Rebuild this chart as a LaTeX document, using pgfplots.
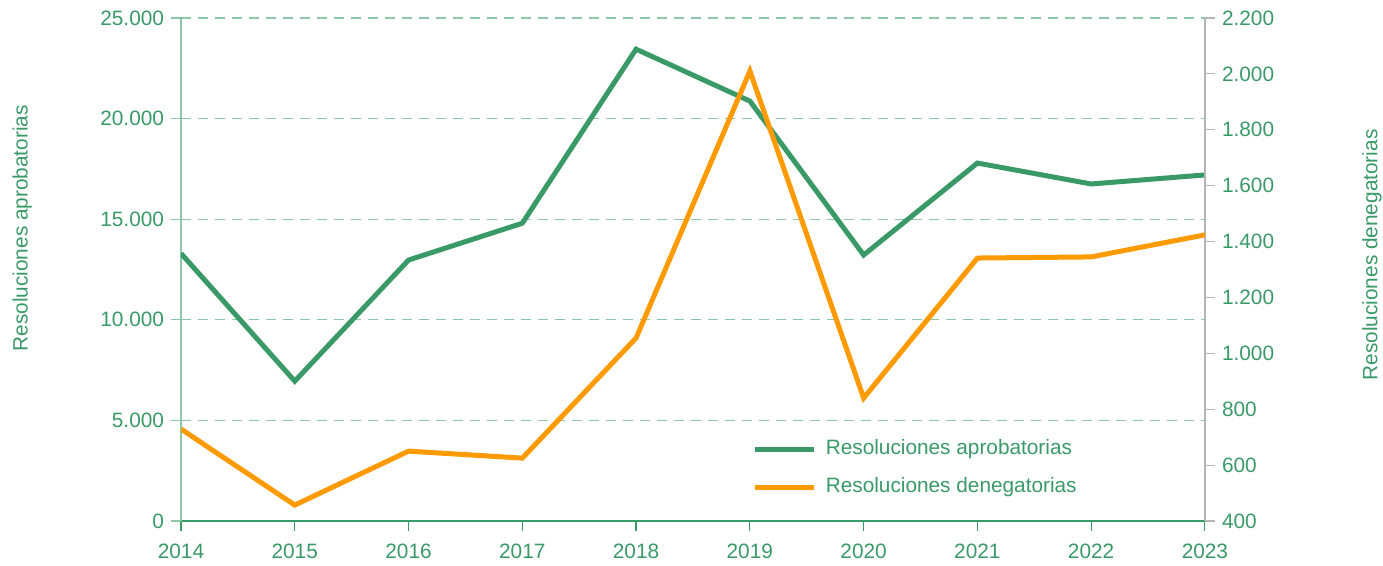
\documentclass[border=0pt]{standalone}
\usepackage{fontspec}
\setmainfont{Liberation Sans}
\usepackage{pgfplots}
\pgfplotsset{compat=1.18}
\definecolor{verde}{HTML}{3A9A67}
\definecolor{verdeclaro}{HTML}{8CC8A8}
\definecolor{naranja}{HTML}{FF9A00}
\definecolor{gris}{HTML}{B4B4B4}
\newcommand{\fs}{\fontsize{10.4}{12}\selectfont}

\pgfplotstableread{
anio aprob deneg
2014 13300 729
2015  6950 457
2016 12970 650
2017 14800 625
2018 23450 1055
2019 20870 2010
2020 13220 840
2021 17790 1341
2022 16750 1345
2023 17200 1424
}\datos

\pgfplotsset{
  base/.style={
    scale only axis, width=512pt, height=251.5pt,
    xmin=2014, xmax=2023,
    tick align=outside, major tick length=5pt,
    every tick label/.append style={font=\fs, text=verde},
    label style={font=\fs, text=verde},
    /pgf/number format/assume math mode=true,
    /pgf/number format/1000 sep={.},
    scaled y ticks=false,
  },
}

\begin{document}
\begin{tikzpicture}
\begin{axis}[base, name=main,
  axis x line*=bottom, axis y line*=left,
  ymin=0, ymax=25000, ytick={0,5000,...,25000},
  xtick={2014,...,2023},
  xticklabels={2014,2015,2016,2017,2018,2019,2020,2021,2022,2023},
  xticklabel style={yshift=-3pt},
  x axis line style={verde, line width=0.8pt},
  y axis line style={verdeclaro, line width=0.8pt},
  x tick style={verde, line width=0.6pt},
  y tick style={verdeclaro, line width=0.6pt},
  ymajorgrids,
  grid style={verdeclaro, line width=0.6pt, dash pattern=on 5pt off 3.5pt},
  ylabel={Resoluciones aprobatorias},
  ylabel style={at={(axis description cs:-0.155,0.582)}, anchor=center, rotate=0},
]
\addplot[verde, line width=2.5pt] table[x=anio, y=aprob] {\datos};
\end{axis}
\begin{axis}[base,
  axis x line=none, axis y line*=right,
  ymin=400, ymax=2200, ytick={400,600,...,2200},
  y axis line style={gris, line width=0.8pt},
  y tick style={gris, line width=0.6pt},
  ylabel={Resoluciones denegatorias},
  ylabel style={at={(axis description cs:1.163,0.529)}, anchor=center, rotate=0},
  legend style={at={(axis description cs:0.558,0.1053)}, anchor=west,
    draw=none, fill=none, inner sep=0pt, font=\fs, text=verde,
    nodes={inner sep=0pt, text height=7.5pt, text depth=2.5pt},
    row sep=9pt, column sep=4.5pt},
  legend cell align=left,
  legend image code/.code={\draw[#1] (0pt,0pt) -- (29.5pt,0pt);},
]
\addlegendimage{verde, line width=2.5pt}
\addlegendentry{Resoluciones aprobatorias}
\addplot[naranja, line width=2.5pt] table[x=anio, y=deneg] {\datos};
\addlegendentry{Resoluciones denegatorias}
\end{axis}
\pgfresetboundingbox
\path ([xshift=-90.5pt,yshift=-22.5pt]main.south west) rectangle ([xshift=89pt,yshift=9pt]main.north east);
\end{tikzpicture}
\end{document}
